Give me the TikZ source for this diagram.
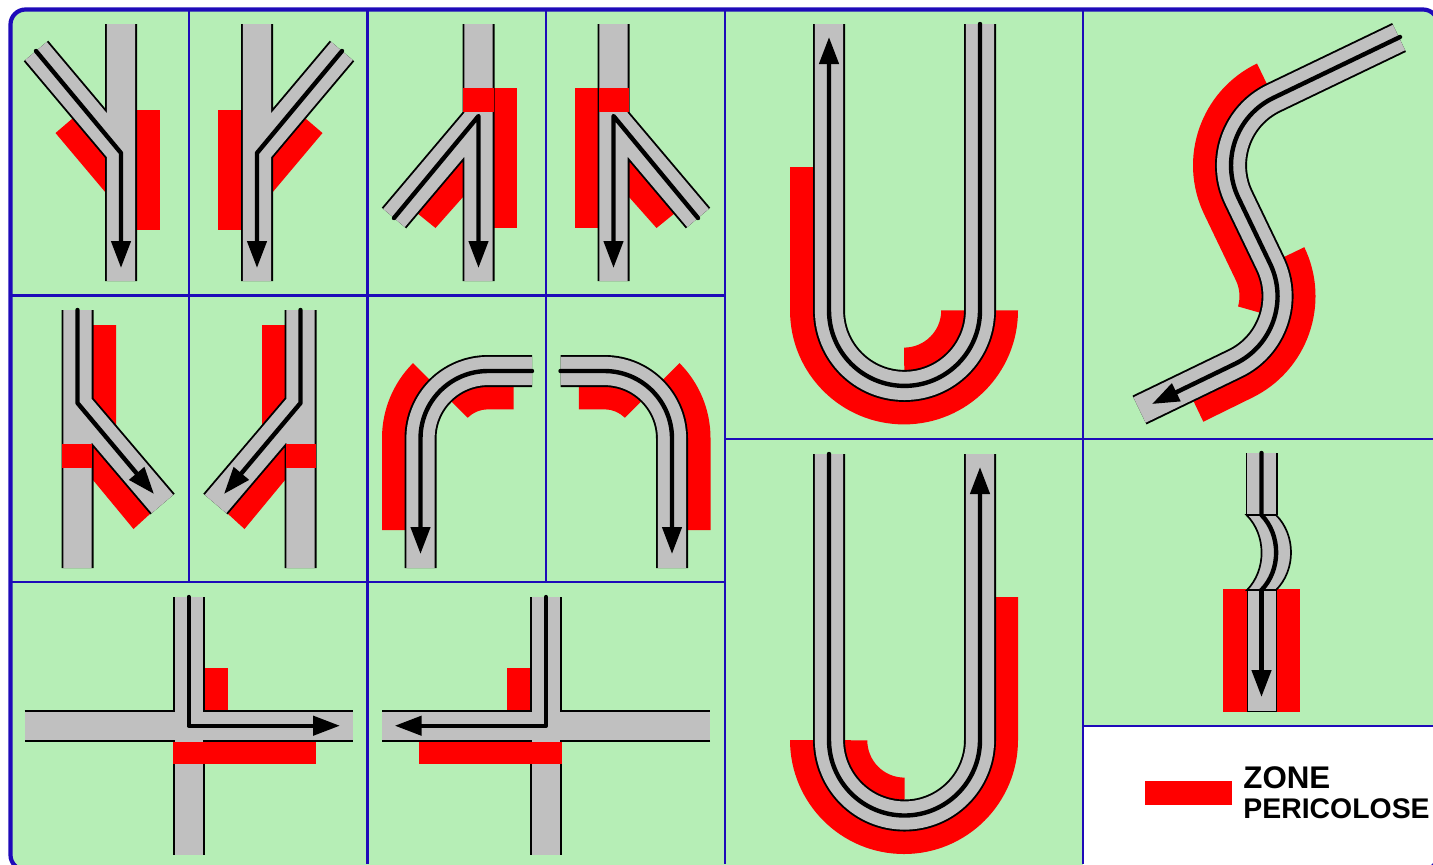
\documentclass[tikz,border=0pt]{standalone}
\usepackage{fontspec}
\setmainfont{Liberation Sans}
\usetikzlibrary{arrows.meta}

\definecolor{panelgreen}{RGB}{182,238,182}
\definecolor{gridblue}{RGB}{30,10,185}
\definecolor{roadgray}{RGB}{192,192,192}

\newcommand{\roadway}[1]{\draw[roadedge] #1; \draw[roadfill] #1;}

\begin{document}
\begin{tikzpicture}[
    x=0.5pt,
    y=-0.5pt,
    gridline/.style={draw=gridblue, line width=1.3pt},
    frameline/.style={draw=gridblue, line width=2.1pt, rounded corners=7.5pt},
    zone/.style={fill=red},
    roadedge/.style={draw=black, line width=16pt},
    roadfill/.style={draw=roadgray, line width=14.1pt},
    trackline/.style={draw=black, line width=2.2pt, line join=round, line cap=round},
    trackarrow/.style={
        trackline,
        -{Triangle[length=13.5pt,width=9.5pt]}
    },
    legendtext/.style={inner sep=0pt, anchor=base west, font=\bfseries}
]
\useasboundingbox (0,0) rectangle (1433,864);
\clip (0,0) rectangle (1433,864);

% --- panel ---
\fill[panelgreen, rounded corners=7.5pt] (10.5,9.5) rectangle (1438,870);
\fill[white] (1083,726) rectangle (1445,875);
\foreach \xpos in {189,546} \draw[gridline] (\xpos,9.5) -- (\xpos,582);
\foreach \xpos in {367.5,725,1083} \draw[gridline] (\xpos,9.5) -- (\xpos,864);
\draw[gridline] (10.5,295.5) -- (725,295.5);
\draw[gridline] (10.5,582) -- (725,582);
\draw[gridline] (725,439) -- (1433,439);
\draw[gridline] (1083,726) -- (1433,726);
\draw[frameline] (10.5,9.5) rectangle (1438,870);

% --- fork from the left ---
\foreach \mirrorx/\flipx in {0/1,378/-1} {
\begin{scope}[shift={(\mirrorx,0)},xscale=\flipx]
\fill[zone] (135,110) rectangle (160,230);
\fill[zone] (55.5,133) -- (73,118) -- (106,156) -- (106,193) -- cycle;
\roadway{(121,24) -- (121,281) (36,51) -- (121,152)}
\draw[trackarrow] (36,51) -- (121,153) -- (121,268);
\end{scope}
}

% --- fork towards the left ---
\foreach \mirrorx/\flipx in {0/1,1092/-1} {
\begin{scope}[shift={(\mirrorx,0)},xscale=\flipx]
\fill[zone] (494,88) rectangle (517,228);
\fill[zone] (463,158) -- (463,197) -- (435.5,228) -- (417,213) -- cycle;
\roadway{(478.5,24) -- (478.5,281) (394,218) -- (478.5,118)}
\fill[zone] (463,88) rectangle (493.5,112);
\draw[trackarrow] (394,218) -- (478.5,116) -- (478.5,268);
\end{scope}
}

% --- side exit ---
\foreach \mirrorx/\flipx in {0/1,378/-1} {
\begin{scope}[shift={(\mirrorx,0)},xscale=\flipx]
\fill[zone] (93,325) -- (116,325) -- (116,426) -- (93,400) -- cycle;
\fill[zone] (93,446) -- (93,480) -- (133.5,529) -- (151,513) -- cycle;
\roadway{(77.5,310) -- (77.5,568) (77.5,404) -- (162.5,504)}
\fill[zone] (62,444) rectangle (92,468);
\draw[trackarrow] (77.5,310) -- (77.5,403) -- (154,494);
\end{scope}
}

% --- bend ---
\foreach \mirrorx/\flipx in {0/1,1092.5/-1} {
\begin{scope}[shift={(\mirrorx,0)},xscale=\flipx]
\fill[zone] (382,530) -- (382,438) arc[start angle=180,end angle=225,radius=106]
    -- (440.6,390.6) arc[start angle=225,end angle=180,radius=67] -- (421,530) -- cycle;
\fill[zone] (513.7,386) -- (513.7,409.3) -- (488,409.3) arc[start angle=270,end angle=225,radius=28.7]
    -- (445.6,395.6) arc[start angle=225,end angle=270,radius=60] -- cycle;
\roadway{(532,371) -- (488,371) arc[start angle=270,end angle=180,radius=67.5] -- (420.5,568)}
\draw[trackarrow] (532,371) -- (488,371) arc[start angle=270,end angle=180,radius=67.5] -- (420.5,554);
\end{scope}
}

% --- crossing ---
\foreach \mirrorx/\flipx in {0/1,734.7/-1} {
\begin{scope}[shift={(\mirrorx,0)},xscale=\flipx]
\fill[zone] (204,668) rectangle (227.5,711);
\roadway{(188.7,597) -- (188.7,855) (24.5,725.7) -- (353,725.7)}
\fill[zone] (173,741.8) rectangle (316,764);
\draw[trackarrow] (188.7,597) -- (188.7,725.7) -- (340,725.7);
\end{scope}
}

% --- upper U-turn ---
\fill[zone] (790,167) -- (790,310.4) arc[start angle=180,end angle=0,radius=114]
    -- (980,310.4) arc[start angle=0,end angle=180,radius=75.5] -- (829,167) -- cycle;
\fill[zone] (904,347.6) arc[start angle=90,end angle=0,radius=37.2]
    -- (980,310.4) arc[start angle=0,end angle=90,radius=75.5] -- cycle;
\roadway{(829,24) -- (829,310.4) arc[start angle=180,end angle=0,radius=75.5] -- (980,24)}
\draw[trackarrow] (980,24) -- (980,310.4) arc[start angle=0,end angle=180,radius=75.5] -- (829,37);

% --- lower U-turn ---
\fill[zone] (1018,597) -- (1018,740) arc[start angle=0,end angle=180,radius=114]
    -- (829,740) arc[start angle=180,end angle=0,radius=75.5] -- (980,597) -- cycle;
\fill[zone] (904.5,777.6) arc[start angle=90,end angle=180,radius=37.2]
    -- (829,740) arc[start angle=180,end angle=90,radius=75.5] -- cycle;
\roadway{(829,454) -- (829,740) arc[start angle=180,end angle=0,radius=75.5] -- (980,454)}
\draw[trackarrow] (829,454) -- (829,740) arc[start angle=180,end angle=0,radius=75.5] -- (980,467);

% --- S bend ---
\fill[zone] (1257,63.5) arc[start angle=244.3,end angle=154.3,radius=113] -- (1235.8,280.2)
    arc[start angle=-25.7,end angle=16,radius=37] -- (1274.6,316.9)
    arc[start angle=16,end angle=-25.7,radius=75] -- (1238.4,197.8)
    arc[start angle=154.3,end angle=244.3,radius=75] -- cycle;
\fill[zone] (1304.3,247.2) arc[start angle=-25.7,end angle=64.3,radius=113] -- (1203.3,421.7)
    -- (1187,387.5) -- (1235,363.8) arc[start angle=64.3,end angle=-25.7,radius=75] -- cycle;
\roadway{(1399,37.5) -- (1273.5,97.8) arc[start angle=244.3,end angle=154.3,radius=75]
    -- (1270.1,263.7) arc[start angle=-25.7,end angle=64.3,radius=75] -- (1139.5,410)}
\draw[trackarrow] (1400,37) -- (1273.5,97.8) arc[start angle=244.3,end angle=154.3,radius=75]
    -- (1270.1,263.7) arc[start angle=-25.7,end angle=64.3,radius=75] -- (1152,404);

% --- chicane ---
\fill[zone] (1223.3,589) rectangle (1300,711.5);
\roadway{(1261.5,453) -- (1261.5,515)}
\draw[fill=roadgray, line width=0.85pt] (1246.5,515) .. controls (1266.5,535) and (1266.5,570) .. (1247,590)
    -- (1276,590) .. controls (1296,570) and (1296,535) .. (1276,515) -- cycle;
\draw[fill=roadgray, line width=0.25pt] (1247,590) rectangle (1276,711.5);
\draw[trackline] (1261.5,453) -- (1261.5,515) .. controls (1281,535) and (1281,570) .. (1261.5,590);
\draw[trackarrow] (1261.5,590) -- (1261.5,697);

% --- legend ---
\fill[zone] (1145.3,780.7) rectangle (1232.3,805);
\node (zonelabel) [legendtext, font=\bfseries\fontsize{15.65pt}{15.65pt}\selectfont] at (1243,788) {ZONE};
\node (pericoloselabel) [legendtext, font=\bfseries\fontsize{14.2pt}{14.2pt}\selectfont] at (1243,818) {PERICOLOSE};

\end{tikzpicture}
\end{document}
